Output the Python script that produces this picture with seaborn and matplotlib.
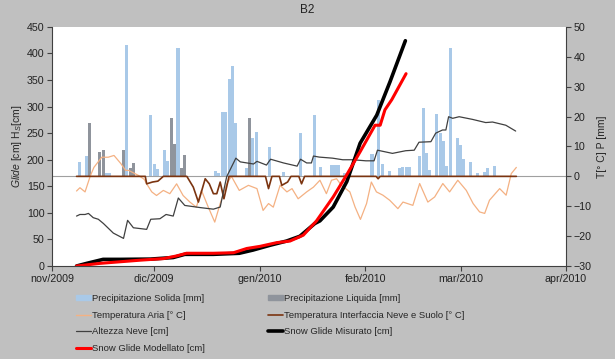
import pandas as pd
import seaborn as sns
import matplotlib.pyplot as plt
import matplotlib.patches as mpatches
from matplotlib.lines import Line2D

start = pd.Timestamp('2009-11-01')

# daily precipitation, right axis [mm]
solid_dates = ['2009-11-09', '2009-11-11', '2009-11-17', '2009-11-18', '2009-11-23',
               '2009-11-30', '2009-12-01', '2009-12-02', '2009-12-04', '2009-12-05',
               '2009-12-08', '2009-12-19', '2009-12-20', '2009-12-21', '2009-12-22',
               '2009-12-23', '2009-12-24', '2009-12-25', '2009-12-28', '2009-12-30',
               '2009-12-31', '2010-01-04', '2010-01-08', '2010-01-13', '2010-01-17',
               '2010-01-19', '2010-01-22', '2010-01-23', '2010-01-24', '2010-01-26',
               '2010-02-03', '2010-02-05', '2010-02-06', '2010-02-08', '2010-02-11',
               '2010-02-12', '2010-02-13', '2010-02-14', '2010-02-17', '2010-02-18',
               '2010-02-19', '2010-02-20', '2010-02-22', '2010-02-23', '2010-02-24',
               '2010-02-25', '2010-02-26', '2010-02-28', '2010-03-01', '2010-03-02',
               '2010-03-04', '2010-03-06', '2010-03-08', '2010-03-09', '2010-03-11']
solid_mm = [4.7, 6.7, 1.2, 1.2, 44.0,
            20.4, 4.0, 2.3, 8.7, 5.3,
            43.0, 1.7, 1.2, 21.4, 21.7,
            32.7, 37.0, 17.7, 2.7, 13.0,
            15.0, 9.7, 1.3, 14.4, 20.4,
            3.0, 3.7, 3.7, 3.7, 1.0,
            7.4, 25.7, 4.3, 1.7, 2.7,
            3.0, 3.2, 3.0, 6.7, 23.0,
            7.7, 2.0, 21.0, 14.4, 11.7,
            3.4, 43.0, 12.7, 10.4, 5.7,
            4.7, 1.0, 1.3, 2.7, 3.3]
liquid_dates = ['2009-11-12', '2009-11-15', '2009-11-16', '2009-11-22', '2009-11-24',
                '2009-11-25', '2009-12-06', '2009-12-07', '2009-12-09', '2009-12-10',
                '2009-12-29']
liquid_mm = [17.7, 8.1, 8.7, 8.7, 2.7,
             4.4, 19.4, 10.7, 2.7, 7.0,
             19.4]

# snow height, left axis [cm]  (days since 1 Nov 2009)
hs_day = [7.2, 8.2, 9.7, 10.7, 12.1, 13.6, 15.1, 18, 21, 22.2, 23.9, 27.8, 29, 31.7,
          33.5, 35.6, 37.1, 39, 43.5, 47.4, 49.4, 51.3, 54, 55.3, 59.2, 60.2, 63, 64.2,
          68, 72, 73, 74.8, 76.2, 76.8, 78.5, 82.4, 85.4, 88.3, 92.2, 94.6, 95.6, 100,
          103.9, 106.4, 107.8, 111.3, 112.7, 114.7, 115.7, 116.5, 117.7, 119.6, 123.5,
          127.4, 129.4, 133.3, 136.2]
hs_cm = [94, 97, 97, 99, 91, 88, 80, 62, 52, 86, 72, 69, 88, 89,
         97, 94, 128, 114, 110, 107, 111, 168, 203, 196, 192, 197, 190, 201,
         194, 188, 201, 194, 194, 207, 205, 203, 200, 200, 198, 198, 218, 212,
         217, 218, 233, 234, 250, 256, 256, 281, 278, 281, 276,
         270, 271, 265, 254]

# snow glide measured / modelled, left axis [cm]
glide_day = [7.2, 10.2, 15, 20, 28.9, 35.6, 39, 47.4, 55, 59, 64, 68.9, 72.8, 77.2,
             78.7, 82.6, 86.6, 90.5, 95.4, 99.3, 103.8]
glide_cm = [0, 5, 12.5, 12.5, 13, 16, 22, 22, 24, 30, 39, 47, 56, 80,
            85, 111, 159, 231, 284, 347, 424]
model_day = [7.2, 14.1, 20, 25.9, 32.8, 36.6, 39.5, 47.4, 53.3, 57.2, 61.1, 66, 69.9,
             73.8, 77.7, 82.6, 86.6, 90.5, 94.9, 96.4, 97.8, 99.8, 104]
model_cm = [0, 5, 8, 11, 14, 19, 24, 24, 25, 33, 37, 44, 47,
            58, 85, 130, 172, 215, 265, 265, 294, 313, 362]

# air temperature, right axis [deg C]
ta_day = [7.2, 8.2, 9.7, 11.2, 12.3, 14.6, 16.5, 18.2, 20.2, 21.6, 22.5, 25.4, 27.1,
          27.8, 29.3, 30.7, 32.7, 34.6, 36.6, 38.5, 40.5, 42.4, 43.9, 45.9, 47.8,
          49.4, 51.3, 52.7, 55, 57.7, 60.2, 62, 63.6, 65, 67, 69, 70.5, 72.3, 74.8,
          76.8, 78.7, 80.6, 82.1, 83.6, 85, 87.5, 89, 90.6, 92.4, 93.8, 95.3, 97.2,
          99.2, 101.6, 103.1, 106, 108, 110.4, 112.4, 114.8, 116.8, 119.2, 121.7,
          123.7, 125.6, 127.1, 128.5, 131.5, 133.4, 134.9, 136.4]
ta_c = [-4.9, -3.8, -5.2, 0.0, 3.0, 6.4, 6.4, 7.0, 4.3, 2.0, 2.0, 0.3, -1.0,
        -2.5, -5.2, -6.4, -4.7, -5.8, -2.5, -6.4, -8.6, -10.3, -4.7, -10.3, -15.3,
        -9.1, -2.5, 0.0, -4.7, -3.0, -4.1, -11.4, -9.1, -10.3, -3.0, -5.2, -4.1, -7.5, -5.2,
        -3.6, -1.3, -5.8, -1.3, -0.8, -3.0, -5.2, -10.2, -14.4, -9.1, -1.9, -5.2, -6.3,
        -8.0, -10.8, -8.6, -9.7, -2.4, -8.6, -6.9, -2.4, -5.2, -1.3, -4.7,
        -9.1, -11.9, -12.4, -8.0, -4.1, -6.3, 0.9, 3.0]

# snow/ground interface temperature, right axis [deg C]
ti_day = [7.2, 27.4, 27.8, 29.5, 31.1, 32.7, 39.6, 41.5, 43, 45, 46.2, 47.4, 48.4,
          49.4, 50.5, 52, 62.7, 63.6, 64.6, 66.8, 67.5, 69.2, 70.2, 72.5, 73.3, 74.2,
          95.2, 95.8, 96.4, 136.4]
ti_c = [0, 0, -2.5, -1.9, -1.6, 0, 0, -3.6, -8.6, -0.8, -2.5, -5.8, -5.8,
        -1.9, -7.5, 0, 0, -4.1, 0, 0, -3.0, -1.9, 0, 0, -2.5, 0,
        0, -0.8, 0, 0]

month_ticks = ['2009-11-01', '2009-12-01', '2010-01-01', '2010-02-01', '2010-03-01', '2010-04-01']
month_labels = ['nov/2009', 'dic/2009', 'gen/2010', 'feb/2010', 'mar/2010', 'apr/2010']


def to_dates(days):
    return start + pd.to_timedelta(days, unit='D')


sns.set_theme(style='white')
plt.rcParams['font.family'] = ['Liberation Sans', 'DejaVu Sans']
plt.rcParams['mathtext.fontset'] = 'custom'
plt.rcParams['mathtext.rm'] = 'Liberation Sans'
plt.rcParams['mathtext.it'] = 'Liberation Sans:italic'

bg = '#c0c0c0'
c_solid = '#a9c9e8'
c_liquid = '#8f949c'
c_air = '#f4b183'
c_iface = '#7b3410'
c_hs = '#404040'
axcol = '#404040'

fig = plt.figure(figsize=(6.15, 3.59), dpi=100, facecolor=bg)
ax = fig.add_axes([0.0846, 0.259, 0.8358, 0.666])
ax2 = ax.twinx()

# right axis: precipitation + temperatures
ax2.bar(pd.to_datetime(solid_dates), solid_mm, width=0.9, color=c_solid, lw=0, zorder=1)
ax2.bar(pd.to_datetime(liquid_dates), liquid_mm, width=0.9, color=c_liquid, lw=0, zorder=1)
ax2.axhline(0, color='#a0a0a0', lw=0.8, zorder=2)
sns.lineplot(x=to_dates(ta_day), y=ta_c, ax=ax2, color=c_air, lw=0.9, zorder=3)
sns.lineplot(x=to_dates(ti_day), y=ti_c, ax=ax2, color=c_iface, lw=1.2, zorder=4)

# left axis: snow height + glide
sns.lineplot(x=to_dates(hs_day), y=hs_cm, ax=ax, color=c_hs, lw=0.9)
sns.lineplot(x=to_dates(glide_day), y=glide_cm, ax=ax, color='black', lw=2.6)
sns.lineplot(x=to_dates(model_day), y=model_cm, ax=ax, color='#ff0000', lw=2.2)

ax.set_zorder(ax2.get_zorder() + 1)
ax.patch.set_visible(False)
ax2.patch.set_visible(True)
ax2.patch.set_facecolor('white')

ax.set_xlim(pd.Timestamp('2009-11-01'), pd.Timestamp('2010-04-01'))
ax.set_ylim(0, 450)
ax2.set_ylim(-30, 50)
ax.set_yticks(range(0, 451, 50))
ax2.set_yticks(range(-30, 51, 10))
ax.set_xticks(pd.to_datetime(month_ticks))
ax.set_xticklabels(month_labels)

for a in (ax, ax2):
    a.spines['top'].set_visible(False)
    for s in ('left', 'right', 'bottom'):
        a.spines[s].set_color(axcol)
        a.spines[s].set_linewidth(0.8)
    a.tick_params(labelsize=7.7, colors='#222222', length=3.5, width=0.8,
                  direction='out', pad=2)
ax.tick_params(axis='both', which='both', left=True, bottom=True, color=axcol)
ax2.tick_params(axis='y', right=True, color=axcol)
ax2.spines['left'].set_visible(False)
ax2.spines['bottom'].set_visible(False)
ax.spines['right'].set_visible(False)

ax.set_ylabel(r'$\it{Glide}$ [cm] H$_S$[cm]', fontsize=7.5, labelpad=2)
ax2.set_ylabel('T[° C] P [mm]', fontsize=7.5, labelpad=4)
ax.set_xlabel('')
fig.text(0.5, 0.988, 'B2', ha='center', va='top', fontsize=8.5, color='#222222')

handles = [
    mpatches.Patch(color=c_solid, label='Precipitazione Solida [mm]'),
    Line2D([], [], color=c_air, lw=1, label='Temperatura Aria [° C]'),
    Line2D([], [], color=c_hs, lw=0.9, label='Altezza Neve [cm]'),
    Line2D([], [], color='#ff0000', lw=2.2, label='Snow Glide Modellato [cm]'),
    mpatches.Patch(color=c_liquid, label='Precipitazione Liquida [mm]'),
    Line2D([], [], color=c_iface, lw=1.2, label='Temperatura Interfaccia Neve e Suolo [° C]'),
    Line2D([], [], color='black', lw=2.6, label='Snow Glide Misurato [cm]'),
]
fig.legend(handles=handles, loc='upper left', bbox_to_anchor=(0.124, 0.181), ncol=2,
           frameon=False, fontsize=6.8, handlelength=1.6, handleheight=0.4,
           handletextpad=0.1, columnspacing=6.6, labelspacing=0.8,
           borderpad=0, borderaxespad=0)

fig.savefig('out.png', dpi=100, facecolor=bg)
